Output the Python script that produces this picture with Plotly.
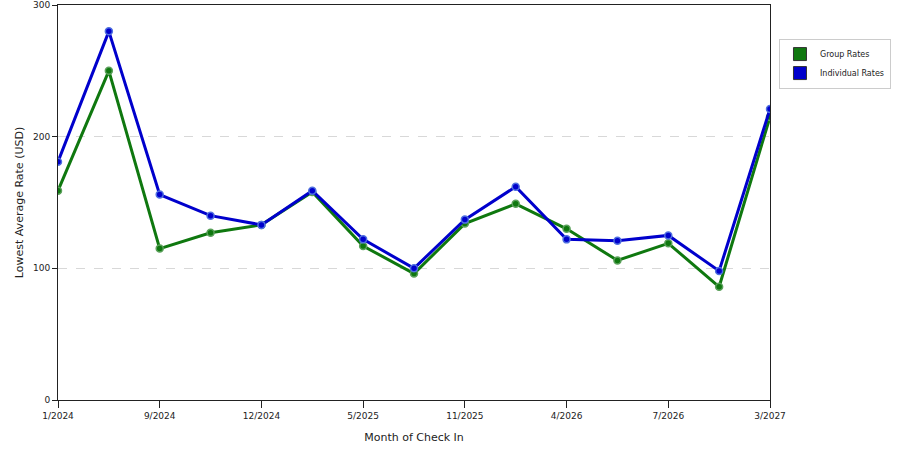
import plotly.graph_objects as go

# month index along the x axis (15 months shown, every other one labelled)
month_idx = list(range(15))
tick_idx = [0, 2, 4, 6, 8, 10, 12, 14]
tick_labels = ['1/2024', '9/2024', '12/2024', '5/2025', '11/2025', '4/2026', '7/2026', '3/2027']

group_rates = [159, 250, 115, 127, 133, 158, 117, 96, 134, 149, 130, 106, 119, 86, 215]
individual_rates = [181, 280, 156, 140, 133, 159, 122, 100, 137, 162, 122, 121, 125, 98, 221]

green = '#0f780f'
blue = '#0000cc'

fig = go.Figure()

for name, vals, col, ring in [('Group Rates', group_rates, green, '#5aa05a'),
                              ('Individual Rates', individual_rates, blue, '#4f6fe0')]:
    fig.add_trace(go.Scatter(
        x=month_idx, y=vals, mode='lines+markers', name=name, showlegend=False,
        line=dict(color=col, width=3),
        marker=dict(size=7, color=col, line=dict(color=ring, width=1.5)),
        hoverinfo='x+y'))
    # square swatch for the legend
    fig.add_trace(go.Scatter(
        x=[None], y=[None], mode='markers', name=name,
        marker=dict(symbol='square', size=13, color=col, line=dict(color='#333333', width=1))))

fig.update_layout(
    width=900, height=450,
    margin=dict(l=58, r=130, t=5, b=50, autoexpand=False),
    plot_bgcolor='white', paper_bgcolor='white',
    font=dict(family='DejaVu Sans', size=9, color='#222222'),
    legend=dict(x=1.0126, y=0.915, xanchor='left', yanchor='top',
                bordercolor='#cccccc', borderwidth=1, bgcolor='white',
                font=dict(size=8), itemwidth=30, tracegroupgap=2),
    showlegend=True,
)
fig.update_xaxes(
    range=[0, 14], tickvals=tick_idx, ticktext=tick_labels, automargin=False,
    showgrid=False, zeroline=False, showline=True, linecolor='#222222', linewidth=1,
    mirror=True, ticks='outside', ticklen=7, tickcolor='#222222',
    title=dict(text='Month of Check In', standoff=13), fixedrange=True)
fig.update_yaxes(
    range=[0, 300], tickvals=[0, 100, 200, 300], automargin=False,
    showgrid=True, gridcolor='#d8d8d8', griddash='dash', gridwidth=1,
    zeroline=False, showline=True, linecolor='#222222', linewidth=1,
    mirror=True, ticks='outside', ticklen=5, tickcolor='#222222',
    title=dict(text='Lowest Average Rate (USD)', standoff=7), fixedrange=True)

fig.write_html('out.html', config={'displayModeBar': False},
               post_script="document.body.style.margin='0';")
